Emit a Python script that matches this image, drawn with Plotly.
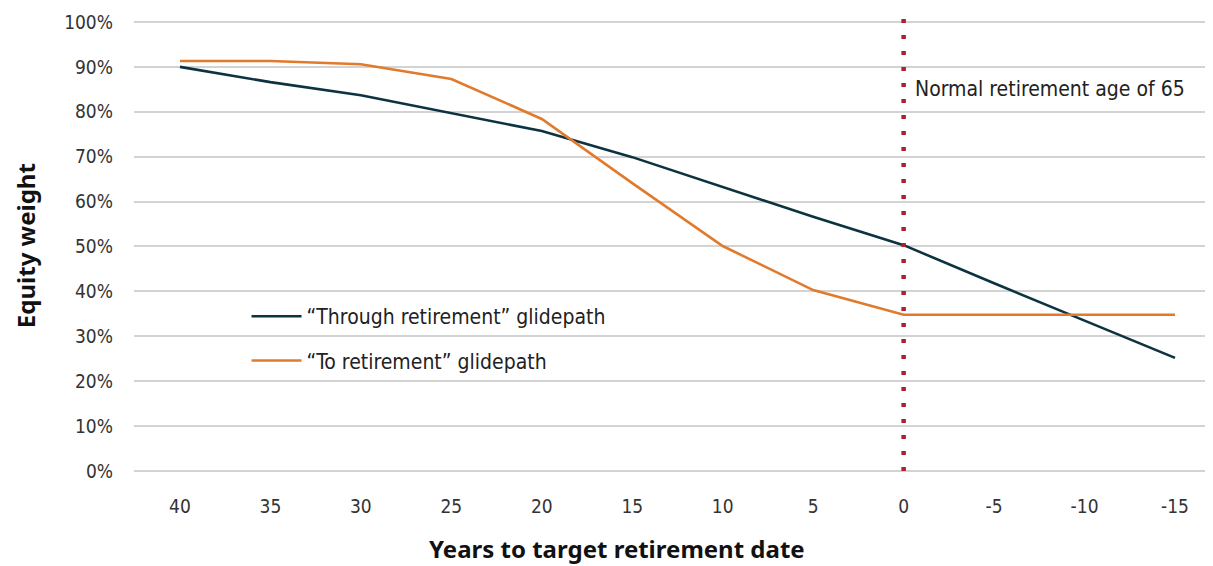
import plotly.graph_objects as go

years = [40, 35, 30, 25, 20, 15, 10, 5, 0, -5, -10, -15]
through_retirement = [90.0, 86.6, 83.7, 79.7, 75.7, 69.9, 63.3, 56.6, 50.3, 41.8, 33.5, 25.2]
to_retirement = [91.3, 91.3, 90.6, 87.3, 78.4, 64.1, 50.1, 40.3, 34.8, 34.8, 34.8, 34.8]
y_ticks = [0, 10, 20, 30, 40, 50, 60, 70, 80, 90, 100]
y_tick_labels = [f"{v}%" for v in y_ticks]
x_tick_labels = [str(v) for v in years]

NAVY = "#0c3340"
ORANGE = "#e27a2b"
RED = "#b01f2e"
TICK_FONT = "Liberation Sans Narrow, DejaVu Sans Condensed, Roboto, sans-serif"
TITLE_FONT = "Noto Sans, Open Sans, sans-serif"

fig = go.Figure()
fig.add_trace(go.Scatter(x=years, y=through_retirement, mode="lines",
                         name="\u201cThrough retirement\u201d glidepath", legendgroup="a",
                         line=dict(color=NAVY, width=2.6)))
fig.add_trace(go.Scatter(x=years, y=to_retirement, mode="lines",
                         name="\u201cTo retirement\u201d glidepath", legendgroup="b",
                         line=dict(color=ORANGE, width=2.6)))

fig.add_shape(type="line", xref="x", yref="y", x0=0, x1=0, y0=0, y1=101.8,
              line=dict(color=RED, width=4.5, dash="4px,12px"), layer="above")

fig.add_annotation(x=0, y=85.0, xref="x", yref="y", text="Normal retirement age of 65",
                   showarrow=False, xanchor="left", yanchor="middle", xshift=9,
                   font=dict(family=TICK_FONT, size=21, color="#222222"))

# axis titles as annotations for exact placement
fig.add_annotation(x=0.4476, y=-0.1703, xref="paper", yref="paper",
                   text="<b>Years to target retirement date</b>", showarrow=False,
                   xanchor="center", yanchor="middle", borderpad=0,
                   font=dict(family=TITLE_FONT, size=24, color="#111111"))
fig.add_annotation(x=-0.1010, y=0.491, xref="paper", yref="paper",
                   text="<b>Equity weight</b>", showarrow=False, textangle=-90,
                   xanchor="center", yanchor="middle", borderpad=0,
                   font=dict(family=TITLE_FONT, size=24, color="#111111"))

fig.update_layout(
    width=1205, height=558,
    margin=dict(l=126, r=0, t=5, b=95),
    paper_bgcolor="white", plot_bgcolor="white",
    showlegend=True,
    legend=dict(x=0.1043, y=0.382, xanchor="left", yanchor="top",
                font=dict(family=TICK_FONT, size=21, color="#222222"),
                bgcolor="rgba(0,0,0,0)", tracegroupgap=14, itemwidth=50,
                traceorder="grouped"),
    xaxis=dict(range=[42.54, -17.1], tickmode="array", tickvals=years, ticktext=x_tick_labels,
               showgrid=False, zeroline=False, showline=False, ticks="",
               ticklabelstandoff=22,
               tickfont=dict(family=TICK_FONT, size=19, color="#333333")),
    yaxis=dict(range=[0, 102], tickmode="array", tickvals=y_ticks, ticktext=y_tick_labels,
               showgrid=True, gridcolor="#d3d3d3", gridwidth=1.5,
               zeroline=True, zerolinecolor="#d3d3d3", zerolinewidth=1.5,
               showline=False, ticks="", ticklabelstandoff=20,
               tickfont=dict(family=TICK_FONT, size=19, color="#333333")),
)

fig.write_html("out.html")
